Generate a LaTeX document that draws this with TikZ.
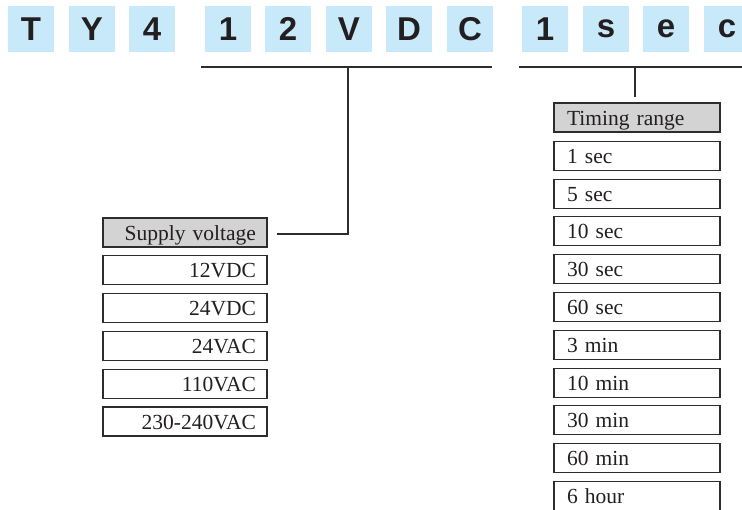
\documentclass[tikz,border=0pt]{standalone}
\usepackage{fontspec}
\setmainfont{Liberation Serif}
\newfontfamily\topfont{Liberation Sans}
\definecolor{codeblue}{RGB}{199,233,249}
\definecolor{hdrgray}{RGB}{211,211,211}
\definecolor{linegray}{RGB}{45,45,45}
\definecolor{inkdark}{RGB}{35,31,32}
\begin{document}
\begin{tikzpicture}[x=1pt,y=-1pt,
  letterbox/.style={fill=codeblue, minimum width=46pt, minimum height=46pt, inner sep=0pt,
    font=\topfont\bfseries\fontsize{33}{33}\selectfont, text=inkdark},
  optbox/.style={draw=linegray, line width=1.1pt, minimum height=29pt, minimum width=164pt,
    inner sep=0pt, text height=16pt, text depth=1pt, font=\fontsize{21.5}{22}\selectfont, text=inkdark},
  rightbox/.style={optbox, text width=142pt, align=right},
  leftbox/.style={optbox, minimum width=166pt, text width=140pt, align=left},
  hdr/.style={fill=hdrgray},
  conn/.style={draw=linegray, line width=1.1pt}]
\useasboundingbox (0,0) rectangle (742,509);
\clip (0,0) rectangle (742,509);
% code letters
\foreach \l/\x/\n in {T/8/l1, Y/69/l2, 4/129/l3, 1/205/l4, 2/265/l5, V/326/l6, D/386/l7, C/447/l8, 1/522/l9, s/583/l10, e/643/l11, c/704/l12}{
  \node[letterbox] (\n) at (\x+23,29) {\l};
}
% underlines
\coordinate (a1) at (201,67);
\coordinate (a2) at (492,67);
\coordinate (u1) at (348,67);
\coordinate (b1) at (519,67);
\coordinate (b2) at (750,67);
\coordinate (u2) at (635,67);
\draw[conn] (a1) -- (a2);
\draw[conn] (b1) -- (b2);
% supply voltage column
\node[rightbox, hdr] (sv) at (185,232.5) {Supply voltage};
\foreach \t [count=\i] in {12VDC, 24VDC, 24VAC, 110VAC, 230-240VAC}{
  \node[rightbox] (s\i) at (185,232.5+37.8*\i) {\t};
}
% timing range column
\node[leftbox, hdr] (tr) at (637,117.5) {Timing range};
\foreach \t [count=\i] in {1 sec, 5 sec, 10 sec, 30 sec, 60 sec, 3 min, 10 min, 30 min, 60 min, 6 hour}{
  \node[leftbox] (t\i) at (637,118+37.8*\i) {\t};
}
% connectors
\coordinate (svc) at ([xshift=9pt,yshift=-1.5pt]sv.east);
\draw[conn] (u1) |- (svc);
\draw[conn, shorten >=5pt] (u2) -- (u2 |- tr.north);
\end{tikzpicture}
\end{document}
